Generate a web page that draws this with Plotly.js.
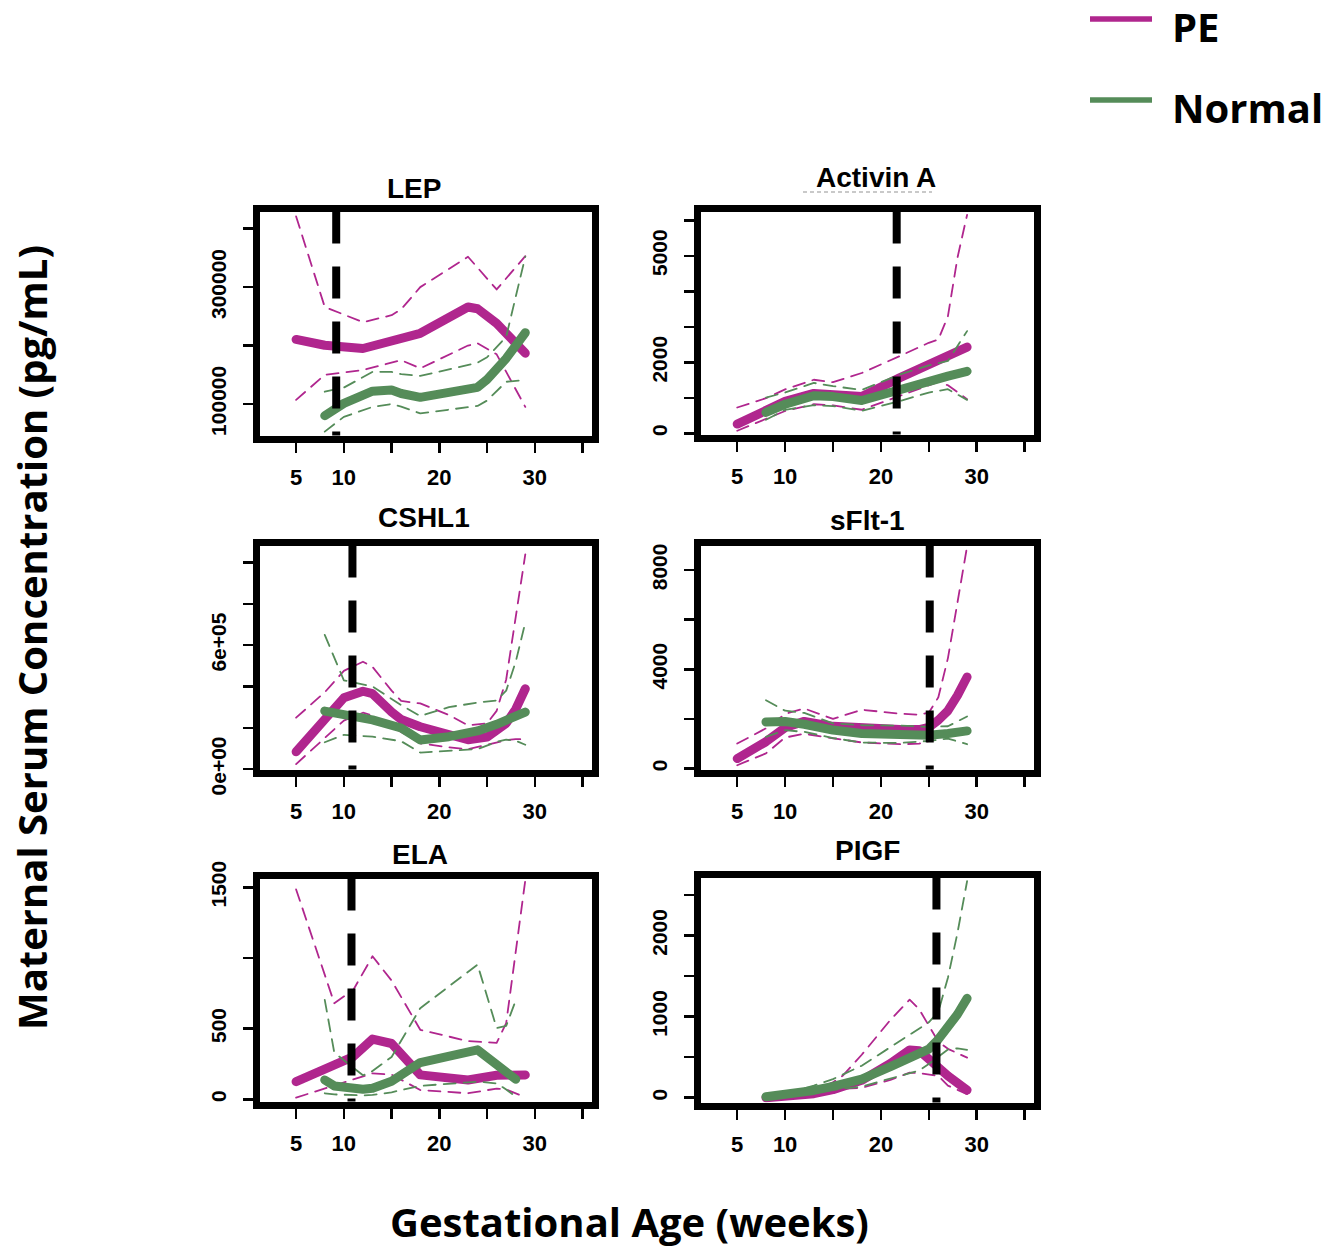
<!DOCTYPE html>
<html>
<head>
<meta charset="utf-8">
<script src="https://cdn.plot.ly/plotly-3.0.1.min.js"></script>
<style>
  html, body { margin: 0; padding: 0; background: #fff; }
  #chart { width: 1340px; height: 1249px; }
  path.js-line { stroke-linecap: round; stroke-linejoin: round; }
</style>
</head>
<body>
<div id="chart"></div>
<script>
// ---------------- DATA ----------------
const panelTitles = ["LEP", "Activin A", "CSHL1", "sFlt-1", "ELA", "PIGF"];
const groupNames = ["PE", "Normal"];

const xTickVals = [5, 10, 15, 20, 25, 30, 35];
const xTickText = ["5", "10", "", "20", "", "30", ""];

// LEP
const lepWeeksPE = [5, 8, 12, 15, 16, 18, 23, 24, 26, 29];
const lepPEMean  = [210500, 200500, 195000, 207000, 214000, 221000, 266000, 263000, 238000, 187000];
const lepPEUpper = [421000, 266000, 240000, 252000, 262000, 300000, 352000, 333000, 296000, 353000];
const lepPELower = [107000, 150000, 158000, 170000, 175000, 161000, 200000, 204000, 185000, 95000];
const lepWeeksN  = [8, 10, 13, 15, 16, 18, 24, 25, 27, 29];
const lepNMean   = [80000, 101000, 122000, 124000, 118000, 111400, 128500, 142000, 178000, 222000];
const lepNUpper  = [121000, 128000, 155000, 155000, 151000, 148000, 170700, 180000, 215000, 352000];
const lepNLower  = [52700, 78000, 95000, 100000, 95400, 84000, 96600, 106000, 138000, 141000];
const lepCut = 9.2;
const lepYTicks = [100000, 200000, 300000, 400000];
const lepYText  = ["100000", "", "300000", ""];

// Activin A
const actWeeksPE = [5, 8, 10, 13, 15, 18, 22, 25, 26, 27, 28, 29];
const actPEMean  = [262, 620, 900, 1125, 1110, 1040, 1570, 1960, 2075, 2190, 2310, 2430];
const actPEUpper = [729, 990, 1240, 1510, 1440, 1700, 2180, 2550, 2640, 3300, 4950, 6150];
const actPELower = [75, 420, 630, 820, 790, 665, 1050, 1336, 1450, 1355, 1150, 963];
const actWeeksN  = [8, 10, 13, 15, 18, 22, 25, 27, 29];
const actNMean   = [589, 820, 1060, 1035, 925, 1250, 1475, 1610, 1748];
const actNUpper  = [1009, 1150, 1420, 1330, 1224, 1660, 1916, 2040, 2879];
const actNLower  = [383, 664, 794, 770, 636, 910, 1150, 1243, 944];
const actCut = 21.65;
const actYTicks = [0, 1000, 2000, 3000, 4000, 5000, 6000];
const actYText  = ["0", "", "2000", "", "", "5000", ""];

// CSHL1
const cshWeeksPE = [5, 8, 10, 12, 13, 15, 16, 18, 21, 23, 25, 26, 27, 28, 29];
const cshPEMean  = [83500, 245000, 345000, 377000, 365000, 277000, 240000, 205000, 170000, 142000, 155000, 185000, 222000, 290000, 389000];
const cshPEUpper = [249000, 372000, 476000, 520000, 495000, 380000, 330000, 318000, 262000, 212000, 222000, 282000, 434000, 749000, 1040000];
const cshPELower = [24000, 148000, 235000, 273000, 260000, 205000, 180000, 125000, 105000, 96000, 118000, 130000, 140000, 145000, 145000];
const cshWeeksN  = [8, 10, 13, 16, 18, 21, 24, 26, 27, 28, 29];
const cshNMean   = [281000, 267000, 238000, 199000, 141000, 157000, 185000, 217000, 233000, 252000, 276000];
const cshNUpper  = [650000, 430000, 400000, 310000, 257000, 300000, 322000, 332500, 380000, 520000, 710000];
const cshNLower  = [130000, 166000, 157000, 135000, 80000, 88000, 97000, 131700, 143000, 137000, 118000];
const cshCut = 10.9;
const cshYTicks = [0, 200000, 400000, 600000, 800000, 1000000];
const cshYText  = ["0e+00", "", "", "6e+05", "", ""];

// sFlt-1
const sfWeeksPE = [5, 8, 10, 12, 15, 18, 22, 24, 25, 26, 27, 28, 29];
const sfPEMean  = [403, 1080, 1650, 1900, 1700, 1610, 1570, 1570, 1660, 1950, 2330, 2950, 3690];
const sfPEUpper = [1007, 1620, 2200, 2420, 2000, 2370, 2210, 2170, 2250, 2870, 4450, 6630, 8950];
const sfPELower = [134, 610, 1250, 1400, 1220, 1050, 980, 1000, 1100, 1300, 1450, 1500, 1550];
const sfWeeksN  = [8, 10, 12, 15, 18, 22, 25, 27, 29];
const sfNMean   = [1879, 1893, 1785, 1550, 1409, 1365, 1342, 1409, 1517];
const sfNUpper  = [2752, 2330, 2242, 1820, 1745, 1730, 1678, 1705, 2100];
const sfNLower  = [1275, 1544, 1477, 1230, 1047, 1030, 1114, 1208, 980];
const sfCut = 25.1;
const sfYTicks = [0, 2000, 4000, 6000, 8000];
const sfYText  = ["0", "", "4000", "", "8000"];

// ELA
const elaWeeksPE = [5, 9, 11, 13, 15, 18, 23, 26, 27, 29];
const elaPEMean  = [125, 240, 303, 426, 395, 173, 137, 170, 173, 173];
const elaPEUpper = [1485, 680, 775, 1012, 840, 492, 412, 400, 539, 1550];
const elaPELower = [12, 100, 140, 184, 175, 66, 43, 76, 70, 15];
const elaWeeksN  = [8, 9, 12, 13, 15, 18, 24, 26, 27, 28];
const elaNMean   = [137, 95, 71, 78, 128, 260, 350, 243, 190, 142];
const elaNUpper  = [704, 330, 170, 200, 300, 645, 953, 504, 520, 700];
const elaNLower  = [43, 35, 28, 31, 50, 95, 125, 113, 70, 19];
const elaCut = 10.8;
const elaYTicks = [0, 500, 1000, 1500];
const elaYText  = ["0", "500", "", "1500"];

// PIGF
const pgWeeksPE = [8, 10, 13, 15, 16, 18, 21, 23, 24, 26, 27, 29];
const pgPEMean  = [0, 12, 50, 100, 130, 215, 424, 590, 580, 370, 270, 95];
const pgPEUpper = [5, 25, 90, 190, 270, 530, 960, 1210, 1090, 690, 603, 495];
const pgPELower = [0, 5, 30, 80, 110, 122, 220, 309, 303, 270, 150, 45];
const pgWeeksN  = [8, 10, 13, 15, 18, 21, 24, 25, 26, 27, 28, 29];
const pgNMean   = [12, 33, 90, 140, 230, 383, 530, 600, 720, 860, 1030, 1226];
const pgNUpper  = [25, 50, 150, 230, 395, 620, 850, 930, 1060, 1480, 2035, 2670];
const pgNLower  = [5, 20, 65, 98, 138, 239, 335, 415, 510, 595, 609, 590];
const pgCut = 25.8;
const pgYTicks = [0, 500, 1000, 1500, 2000, 2500];
const pgYText  = ["0", "", "1000", "", "2000", ""];

// ---------------- STYLE / LAYOUT ----------------
const W = 1340, H = 1249, FRAME = 7;
const PE_COLOR = "#B0268E", N_COLOR = "#558C59";
const TICK_FONT = { family: "Liberation Sans, Arial, sans-serif", size: 22, color: "#000", weight: 700 };
const TITLE_FONT = { family: "Liberation Sans, Arial, sans-serif", size: 28, color: "#000", weight: 700 };
const BIG_FONT = { family: "Open Sans, sans-serif", size: 40, color: "#000", weight: 700 };

const panels = [
  { wPE: lepWeeksPE, pm: lepPEMean, pu: lepPEUpper, pl: lepPELower, wN: lepWeeksN, nm: lepNMean, nu: lepNUpper, nl: lepNLower,
    cut: lepCut, yt: lepYTicks, ytt: lepYText, box: [256, 595, 208, 439], yr: [40100, 435400], tpos: [414, 189] },
  { wPE: actWeeksPE, pm: actPEMean, pu: actPEUpper, pl: actPELower, wN: actWeeksN, nm: actNMean, nu: actNUpper, nl: actNLower,
    cut: actCut, yt: actYTicks, ytt: actYText, box: [697, 1037, 208, 438], yr: [-130, 6345], tpos: [876, 178] },
  { wPE: cshWeeksPE, pm: cshPEMean, pu: cshPEUpper, pl: cshPELower, wN: cshWeeksN, nm: cshNMean, nu: cshNUpper, nl: cshNLower,
    cut: cshCut, yt: cshYTicks, ytt: cshYText, box: [256, 595, 542, 773], yr: [-19000, 1100000], tpos: [424, 517] },
  { wPE: sfWeeksPE, pm: sfPEMean, pu: sfPEUpper, pl: sfPELower, wN: sfWeeksN, nm: sfNMean, nu: sfNUpper, nl: sfNLower,
    cut: sfCut, yt: sfYTicks, ytt: sfYText, box: [697, 1037, 542, 773], yr: [-180, 9130], tpos: [867, 520] },
  { wPE: elaWeeksPE, pm: elaPEMean, pu: elaPEUpper, pl: elaPELower, wN: elaWeeksN, nm: elaNMean, nu: elaNUpper, nl: elaNLower,
    cut: elaCut, yt: elaYTicks, ytt: elaYText, box: [256, 595, 875, 1105], yr: [-40, 1587], tpos: [420, 854] },
  { wPE: pgWeeksPE, pm: pgPEMean, pu: pgPEUpper, pl: pgPELower, wN: pgWeeksN, nm: pgNMean, nu: pgNUpper, nl: pgNLower,
    cut: pgCut, yt: pgYTicks, ytt: pgYText, box: [697, 1037, 874, 1106], yr: [-102, 2759], tpos: [867, 850] }
];
const X_RANGE = [0.8, 36.3]; // axis values at frame-line centres

const traces = [];
const layout = {
  width: W, height: H,
  margin: { l: 0, r: 0, t: 0, b: 0 },
  paper_bgcolor: "#fff", plot_bgcolor: "#fff",
  showlegend: false,
  shapes: [], annotations: []
};

panels.forEach((p, i) => {
  const n = i + 1;
  const xa = "x" + (n === 1 ? "" : n), ya = "y" + (n === 1 ? "" : n);
  const xk = "xaxis" + (n === 1 ? "" : n), yk = "yaxis" + (n === 1 ? "" : n);
  const [x0, x1, y0, y1] = p.box;
  const h = FRAME / 2;
  const sx = (X_RANGE[1] - X_RANGE[0]) / (x1 - x0);
  const sy = (p.yr[1] - p.yr[0]) / (y1 - y0);

  const axCommon = {
    showline: true, linewidth: FRAME, linecolor: "#000", mirror: true,
    showgrid: false, zeroline: false, ticks: "outside", ticklen: 10, tickwidth: 2.5,
    tickcolor: "#000", tickfont: TICK_FONT, tickmode: "array", fixedrange: true
  };
  layout[xk] = Object.assign({}, axCommon, {
    domain: [(x0 + h) / W, (x1 - h) / W],
    range: [X_RANGE[0] + h * sx, X_RANGE[1] - h * sx],
    anchor: ya, tickvals: xTickVals, ticktext: xTickText, tickangle: 0, ticklabelstandoff: 6
  });
  layout[yk] = Object.assign({}, axCommon, {
    domain: [1 - (y1 - h) / H, 1 - (y0 + h) / H],
    range: [p.yr[0] + h * sy, p.yr[1] - h * sy],
    anchor: xa, tickvals: p.yt, ticktext: p.ytt, tickangle: -90, ticklabelstandoff: 8,
    tickfont: Object.assign({}, TICK_FONT, { size: 21 })
  });

  const add = (x, y, color, width, dash) => traces.push({
    type: "scatter", mode: "lines", x: x, y: y, xaxis: xa, yaxis: ya,
    line: { color: color, width: width, dash: dash || "solid" }, hoverinfo: "skip", cliponaxis: true
  });
  add(p.wPE, p.pu, PE_COLOR, 1.8, "12px,8px");
  add(p.wPE, p.pl, PE_COLOR, 1.8, "12px,8px");
  add(p.wPE, p.pm, PE_COLOR, 9);
  add(p.wN, p.nu, N_COLOR, 1.8, "12px,8px");
  add(p.wN, p.nl, N_COLOR, 1.8, "12px,8px");
  add(p.wN, p.nm, N_COLOR, 9);

  layout.shapes.push({
    type: "line", xref: xa, yref: ya + " domain", x0: p.cut, x1: p.cut, y0: 1, y1: 0,
    line: { color: "#000", width: 8, dash: "32px,23px" }, layer: "above"
  });
  layout.annotations.push({
    text: panelTitles[i], xref: "paper", yref: "paper", showarrow: false,
    x: p.tpos[0] / W, y: 1 - p.tpos[1] / H, xanchor: "center", yanchor: "middle", font: TITLE_FONT
  });
});

// faint dashed underline below "Activin A" title (as in the reference)
layout.shapes.push({ type: "line", xref: "paper", yref: "paper", x0: 803 / W, x1: 932 / W, y0: 1 - 192 / H, y1: 1 - 192 / H,
  line: { color: "#b8b8b8", width: 1.5, dash: "4px,3px" } });

// Axis titles
layout.annotations.push({ text: "Maternal Serum Concentration (pg/mL)", xref: "paper", yref: "paper", showarrow: false,
  x: 31 / W, y: 1 - 638 / H, xanchor: "center", yanchor: "middle", textangle: -90, font: BIG_FONT });
layout.annotations.push({ text: "Gestational Age (weeks)", xref: "paper", yref: "paper", showarrow: false,
  x: 629 / W, y: 1 - 1221 / H, xanchor: "center", yanchor: "middle", font: BIG_FONT });

// Custom legend
const legendItems = [
  { name: groupNames[0], color: PE_COLOR, y: 19 },
  { name: groupNames[1], color: N_COLOR, y: 100 }
];
legendItems.forEach(it => {
  layout.shapes.push({ type: "line", xref: "paper", yref: "paper", x0: 1090 / W, x1: 1152 / W,
    y0: 1 - it.y / H, y1: 1 - it.y / H, line: { color: it.color, width: 5.5 } });
  layout.annotations.push({ text: it.name, xref: "paper", yref: "paper", showarrow: false,
    x: 1170 / W, y: 1 - (it.y + 8) / H, xanchor: "left", yanchor: "middle",
    font: { family: "Open Sans, sans-serif", size: 40, color: "#000", weight: 700 } });
});

Plotly.newPlot("chart", traces, layout, { staticPlot: true, displayModeBar: false });
</script>
</body>
</html>
